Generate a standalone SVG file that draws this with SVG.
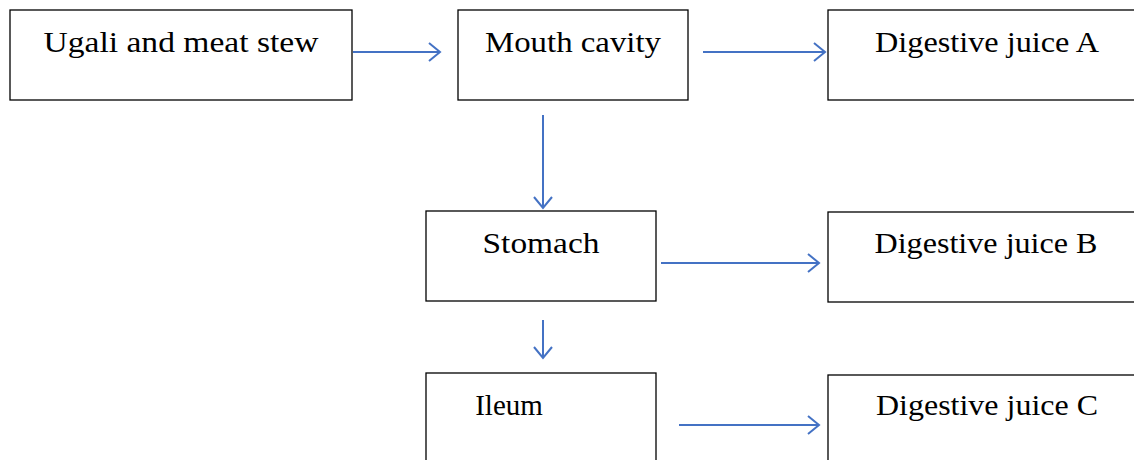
<svg xmlns="http://www.w3.org/2000/svg" width="1134" height="460" viewBox="0 0 1134 460">
<style>
.box{fill:#fff;stroke:#000;stroke-width:1.3}
.t{font-family:"Liberation Serif","DejaVu Serif",serif;font-size:29px;fill:#000}
.c{stroke:#4472C4;stroke-width:2;fill:none}
</style>
<defs>
<marker id="ah" viewBox="-12 -10 14 20" refX="0" refY="0" markerWidth="14" markerHeight="20" markerUnits="userSpaceOnUse" orient="auto">
<path d="M-11,-9 L0,0 L-11,9" fill="none" stroke="#4472C4" stroke-width="2"/>
</marker>
</defs>
<rect width="1134" height="460" fill="#fff"/>
<g id="ugali"><rect class="box" x="10" y="10" width="342" height="90"/><text class="t" x="181" y="52" text-anchor="middle" textLength="275" lengthAdjust="spacingAndGlyphs">Ugali and meat stew</text></g>
<g id="mouth"><rect class="box" x="458" y="10" width="230" height="90"/><text class="t" x="573" y="52" text-anchor="middle" textLength="176" lengthAdjust="spacingAndGlyphs">Mouth cavity</text></g>
<g id="juiceA"><rect class="box" x="828" y="10" width="320" height="90"/><text class="t" x="987" y="52" text-anchor="middle" textLength="224" lengthAdjust="spacingAndGlyphs">Digestive juice A</text></g>
<g id="stomach"><rect class="box" x="426" y="211" width="230" height="90"/><text class="t" x="541" y="253" text-anchor="middle" textLength="117" lengthAdjust="spacingAndGlyphs">Stomach</text></g>
<g id="juiceB"><rect class="box" x="828" y="212" width="320" height="90"/><text class="t" x="986" y="253" text-anchor="middle" textLength="223" lengthAdjust="spacingAndGlyphs">Digestive juice B</text></g>
<g id="ileum"><rect class="box" x="426" y="373" width="230" height="100"/><text class="t" x="509" y="415" text-anchor="middle">Ileum</text></g>
<g id="juiceC"><rect class="box" x="828" y="375" width="320" height="100"/><text class="t" x="987" y="415" text-anchor="middle" textLength="222" lengthAdjust="spacingAndGlyphs">Digestive juice C</text></g>
<g id="connectors">
<line class="c" x1="353" y1="52" x2="440" y2="52" marker-end="url(#ah)"/>
<line class="c" x1="703" y1="52" x2="825" y2="52" marker-end="url(#ah)"/>
<line class="c" x1="543" y1="115" x2="543" y2="208" marker-end="url(#ah)"/>
<line class="c" x1="661" y1="263" x2="819" y2="263" marker-end="url(#ah)"/>
<line class="c" x1="543" y1="320" x2="543" y2="358" marker-end="url(#ah)"/>
<line class="c" x1="679" y1="425" x2="819" y2="425" marker-end="url(#ah)"/>
</g>
</svg>
